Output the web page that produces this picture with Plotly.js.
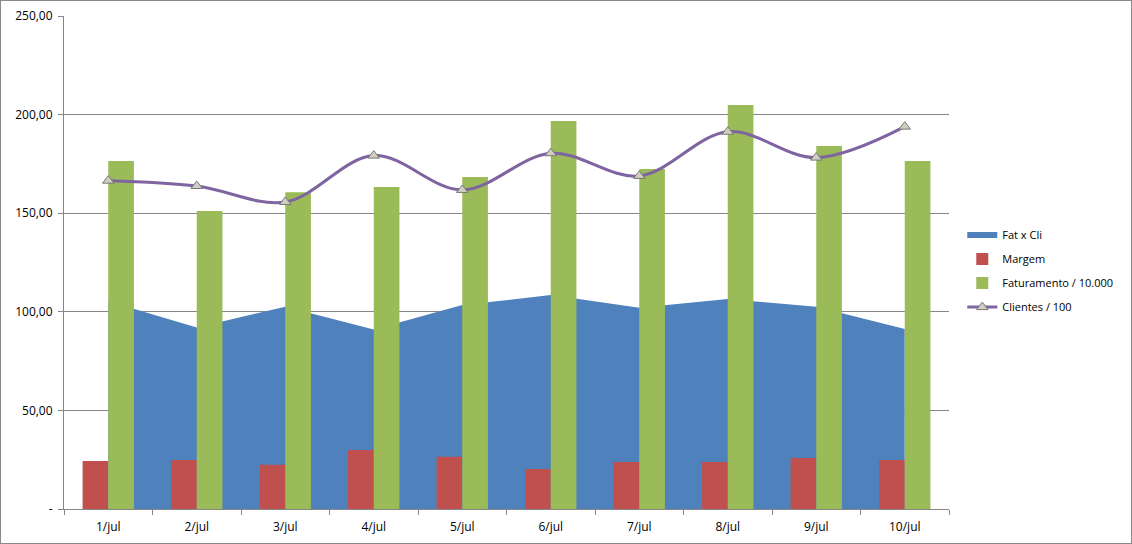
<!DOCTYPE html>
<html>
<head>
<meta charset="utf-8">
<script src="https://cdn.plot.ly/plotly-3.0.1.min.js"></script>
<style>
  html, body { margin: 0; padding: 0; background: #fff; }
  #frame { width: 1132px; height: 544px; box-sizing: border-box; border: 1px solid #8a8a8a; overflow: hidden; }
  #chart { width: 1130px; height: 542px; }
</style>
</head>
<body>
<div id="frame"><div id="chart"></div></div>
<script>
// ---- data ----
const categories = ['1/jul', '2/jul', '3/jul', '4/jul', '5/jul', '6/jul', '7/jul', '8/jul', '9/jul', '10/jul'];
const fatXCli     = [105.3, 92.0, 102.6, 91.0, 103.4, 108.5, 102.0, 106.5, 102.6, 91.3];
const margem      = [24.3, 24.8, 22.5, 29.9, 26.5, 20.3, 23.8, 23.8, 25.9, 24.8];
const faturamento = [176.5, 151.1, 160.6, 163.3, 168.4, 196.8, 172.4, 204.9, 184.1, 176.5];
const clientes    = [166.5, 163.8, 155.7, 179.2, 161.8, 180.4, 168.9, 191.3, 178.2, 193.9];
const yTickVals   = [0, 50, 100, 150, 200, 250];
const yTickText   = ['-', '50,00', '100,00', '150,00', '200,00', '250,00'];

const FONT = '"Open Sans", "Liberation Sans", sans-serif';
const GRID = '#868686';

const traces = [
  {
    name: 'Fat x Cli', type: 'scatter', mode: 'none', x: categories, y: fatXCli,
    fill: 'tozeroy', fillcolor: '#4F81BD', xaxis: 'x', yaxis: 'y', legendgroup: 'a'
  },
  {
    name: 'Margem', type: 'bar', x: categories, y: margem,
    marker: { color: '#C0504D' }, xaxis: 'x2', yaxis: 'y2', legendgroup: 'b'
  },
  {
    name: 'Faturamento / 10.000', type: 'bar', x: categories, y: faturamento,
    marker: { color: '#9BBB59' }, xaxis: 'x2', yaxis: 'y2', legendgroup: 'c'
  },
  {
    name: 'Clientes / 100', type: 'scatter', mode: 'lines+markers', x: categories, y: clientes,
    line: { color: '#7E64A0', width: 3, shape: 'spline', smoothing: 1 },
    marker: { symbol: 'triangle-up', size: 10, color: '#CFCFC0', line: { color: '#777777', width: 1 } },
    xaxis: 'x2', yaxis: 'y2', legendgroup: 'd'
  }
];

const layout = {
  width: 1130, height: 542,
  margin: { l: 63, r: 182, t: 15, b: 34, pad: 0 },
  paper_bgcolor: '#ffffff', plot_bgcolor: '#ffffff',
  font: { family: FONT, size: 12, color: '#000000' },
  showlegend: true,
  legend: {
    x: 1.015, xanchor: 'left', y: 0.585, yanchor: 'top',
    font: { family: FONT, size: 11, color: '#000000' },
    tracegroupgap: 5, itemwidth: 30, bgcolor: 'rgba(0,0,0,0)'
  },
  barmode: 'group', bargap: 0.42, bargroupgap: 0,
  xaxis: {
    type: 'category', range: [-0.5, 9.5], showgrid: false, zeroline: false,
    showline: true, linecolor: GRID, linewidth: 1,
    ticks: 'outside', tickson: 'boundaries', ticklen: 5, tickcolor: GRID,
    ticklabelstandoff: 7,
    tickfont: { family: FONT, size: 12, color: '#000' }, fixedrange: true
  },
  yaxis: {
    range: [0, 250], tickvals: yTickVals, ticktext: yTickText,
    showgrid: true, gridcolor: GRID, gridwidth: 1, zeroline: false,
    showline: true, linecolor: GRID, linewidth: 1,
    ticks: 'outside', ticklen: 5, tickcolor: GRID,
    ticklabelstandoff: 3,
    tickfont: { family: FONT, size: 12, color: '#000' }, fixedrange: true
  },
  xaxis2: { type: 'category', overlaying: 'x', range: [-0.5, 9.5], visible: false, fixedrange: true },
  yaxis2: { overlaying: 'y', range: [0, 250], visible: false, showgrid: false, fixedrange: true }
};

Plotly.newPlot('chart', traces, layout, { staticPlot: true, displayModeBar: false });
</script>
</body>
</html>
